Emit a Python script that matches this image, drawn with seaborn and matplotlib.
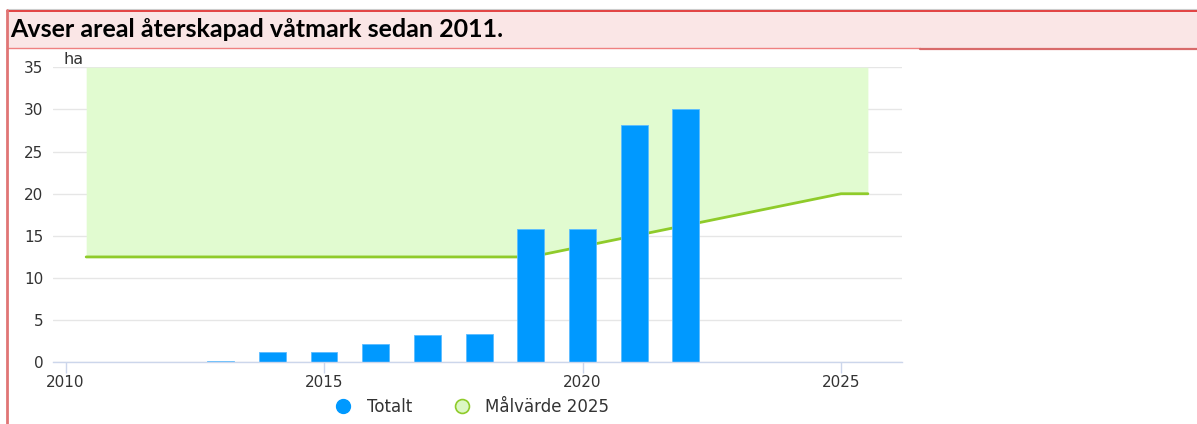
import matplotlib
matplotlib.use("Agg")
import matplotlib.pyplot as plt
import seaborn as sns
from matplotlib.patches import Rectangle
from matplotlib.lines import Line2D

# data
years = [2013, 2014, 2015, 2016, 2017, 2018, 2019, 2020, 2021, 2022]
totalt = [0.2, 1.2, 1.2, 2.2, 3.25, 3.4, 15.85, 15.85, 28.2, 30.1]

target_x = [2010.4, 2019, 2025, 2025.52]
target_y = [12.5, 12.5, 20, 20]

y_ticks = [0, 5, 10, 15, 20, 25, 30, 35]
x_ticks = [2010, 2015, 2020, 2025]

title_text = "Avser areal återskapad våtmark sedan 2011."

W, H = 1197, 424

sns.set_theme(style="white")
plt.rcParams['font.family'] = ['DejaVu Sans']

fig = plt.figure(figsize=(W / 100, H / 100), dpi=100)


def fx(px):
    return px / W


def fy(py):
    return 1 - py / H


# header box and borders
fig.add_artist(Rectangle((fx(7), fy(48)), fx(W - 7), 38 / H, transform=fig.transFigure,
                         facecolor="#fae6e6", edgecolor="none", zorder=0))
fig.add_artist(Line2D([fx(7), 1], [fy(9.3), fy(9.3)], transform=fig.transFigure, color="#cccccc", lw=0.8))
fig.add_artist(Line2D([fx(7), 1], [fy(10.6), fy(10.6)], transform=fig.transFigure, color="#e03535", lw=1.3))
fig.add_artist(Line2D([fx(7), fx(920)], [fy(48.3), fy(48.3)], transform=fig.transFigure, color="#ef8080", lw=1.0))
fig.add_artist(Line2D([fx(920), 1], [fy(48.8), fy(48.8)], transform=fig.transFigure, color="#d86a6a", lw=1.6))
fig.add_artist(Line2D([fx(7), fx(7)], [0, fy(10)], transform=fig.transFigure, color="#e07575", lw=2.0))
fig.text(fx(10), fy(29.5), title_text, fontsize=18, fontweight="bold", family=["Lato", "DejaVu Sans"],
         color="#000000", va="center", ha="left")

ax = fig.add_axes([fx(53), fy(362.3), fx(902 - 53), (362.3 - 67.3) / H])

# target area and line
ax.fill_between(target_x, target_y, 35, color="#e1fbd0", lw=0, zorder=1)
sns.lineplot(x=target_x, y=target_y, ax=ax, color="#8fcb2a", lw=2, zorder=3, legend=False)

sns.barplot(x=years, y=totalt, ax=ax, native_scale=True, width=0.52, color="#0099ff",
            saturation=1, edgecolor="#5cbcff", linewidth=0.6, zorder=4)

ax.set_xlim(2009.758, 2026.18)
ax.set_ylim(0, 35)
ax.set_yticks(y_ticks)
ax.set_xticks(x_ticks)
ax.set_xticklabels([str(t) for t in x_ticks])
ax.set_xlabel("")
ax.set_ylabel("")
ax.grid(axis="y", color="#e6e6e6", lw=1, zorder=0)
ax.set_axisbelow(True)
for s in ["top", "right", "left"]:
    ax.spines[s].set_visible(False)
ax.spines["bottom"].set_color("#ccd6eb")
ax.spines["bottom"].set_linewidth(1)
ax.spines["bottom"].set_zorder(5)
ax.tick_params(axis="x", length=8, width=1, color="#ccd6eb", labelsize=11, labelcolor="#333333", pad=1.5,
               bottom=True)
ax.tick_params(axis="y", length=0, labelsize=11, labelcolor="#333333", pad=7)
ax.text(fx(68) - fx(53), 1.0, "ha", transform=ax.transAxes, fontsize=11.5, color="#333333",
        ha="left", va="bottom")

handles = [
    Line2D([], [], marker="o", ls="none", markersize=10, markerfacecolor="#0099ff", markeredgecolor="#0099ff"),
    Line2D([], [], marker="o", ls="none", markersize=10, markerfacecolor="#dcf7c4", markeredgecolor="#8fcb2a",
           markeredgewidth=1.2),
]
fig.legend(handles, ["Totalt", "Målvärde 2025"], loc="center", bbox_to_anchor=(fx(468), fy(407)),
           ncol=2, frameon=False, fontsize=12, handletextpad=0.4, columnspacing=2.0,
           labelcolor="#333333")

fig.savefig("out.png", dpi=100)
